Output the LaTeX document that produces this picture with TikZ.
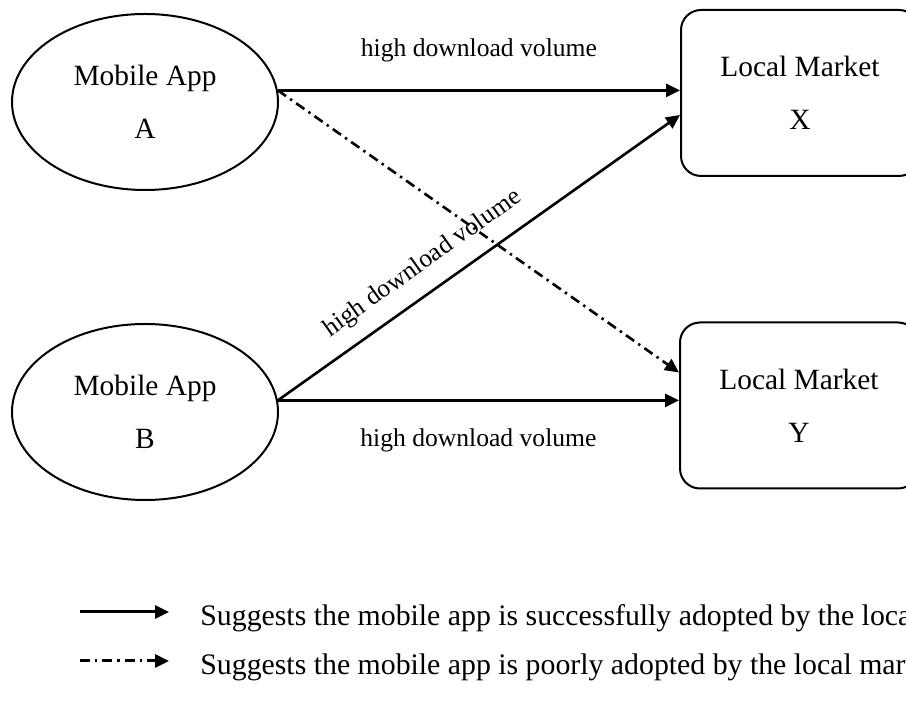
\documentclass[tikz,border=0pt]{standalone}
\usepackage{fontspec}
\setmainfont{Liberation Serif}
\usetikzlibrary{arrows.meta,shapes.geometric}

\begin{document}
\begin{tikzpicture}[
  x=0.5pt, y=-0.5pt,
  font=\fontsize{14.7}{26.5}\selectfont,
  app/.style={
    ellipse,
    draw=black,
    line width=1pt,
    minimum width=133pt,
    minimum height=88pt,
    align=center,
    inner sep=0pt
  },
  market/.style={
    rectangle,
    draw=black,
    rounded corners=10pt,
    line width=1pt,
    minimum width=119pt,
    minimum height=83pt,
    align=center,
    inner sep=0pt
  },
  volume/.style={font=\fontsize{12.8}{15}\selectfont},
  adopted/.style={-{Triangle[length=7pt, width=6.5pt]}, line width=1.3pt},
  poorly/.style={adopted, dash pattern=on 5pt off 2.5pt on 1.2pt off 2.5pt},
  legend/.style={anchor=west, inner sep=0pt, font=\fontsize{14.9}{18}\selectfont}
]
\useasboundingbox (0,0) rectangle (906,710);
\clip (0,0) rectangle (906,710);

\node[app] (appA) at (145,102) {Mobile App\\A};
\node[app] (appB) at (145,412) {Mobile App\\B};
\node[market] (marketX) at (800,93) {Local Market\\X};
\node[market] (marketY) at (799,405.5) {Local Market\\Y};

\draw[adopted] (appA.5) -- node[volume, above=10pt] {high download volume} (appA.5 -| marketX.west);
\draw[poorly] (appA.5) -- ([yshift=16.5pt]marketY.west);
\draw[adopted] (appB.5) -- node[volume, sloped, above=4pt, pos=0.40] {high download volume} ([yshift=-11pt]marketX.west);
\draw[adopted] (appB.5) -- node[volume, below=10pt] {high download volume} (appB.5 -| marketY.west);

\coordinate (okfrom) at (80,612);
\coordinate (okto) at (169,612);
\coordinate (poorfrom) at (80,661);
\coordinate (poorto) at (169,661);
\node[legend] (oktext) at (200,618) {Suggests the mobile app is successfully adopted by the local market};
\node[legend] (poortext) at (200,667) {Suggests the mobile app is poorly adopted by the local market};
\draw[adopted, line width=1.5pt] (okfrom) -- (okto);
\draw[poorly, line width=1.5pt] (poorfrom) -- (poorto);

\end{tikzpicture}
\end{document}
